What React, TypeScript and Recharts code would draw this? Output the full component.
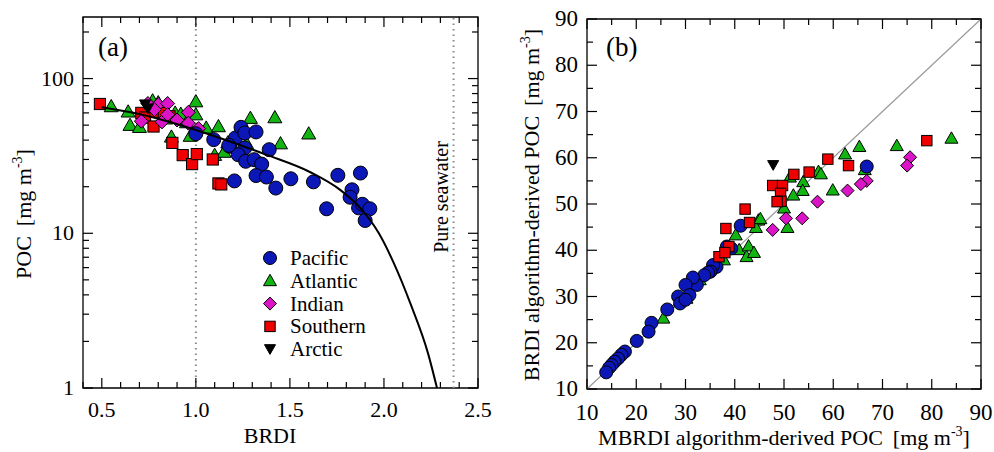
import { ScatterChart, Scatter, XAxis, YAxis, ReferenceLine, ReferenceArea } from "recharts";

const FONT = "'Liberation Serif', 'Times New Roman', Times, serif";

const C_PACIFIC = "#0b17b6";
const C_ATLANTIC = "#12b412";
const C_INDIAN = "#dc14c8";
const C_SOUTHERN = "#f00000";
const C_ARCTIC = "#000000";

// ---- panel (a): BRDI vs POC ----
const pacificA = [
  [1.0, 44], [1.095, 40.3], [1.18, 36.5], [1.21, 41.3], [1.24, 48.4], [1.26, 44.5], [1.32, 45.2],
  [1.26, 35.6], [1.225, 32.2], [1.265, 29.2], [1.31, 29.9], [1.35, 28], [1.39, 34.7], [1.32, 23.6],
  [1.375, 23.1], [1.425, 19.6], [1.205, 21.8], [1.505, 22.5], [1.625, 21.5], [1.755, 23.7],
  [1.875, 24.5], [1.83, 19.1], [1.82, 17.1], [1.695, 14.4], [1.865, 14.6], [1.885, 15.4],
  [1.925, 14.4], [1.9, 12.1], [1.175, 37],
];
const atlanticA = [
  [0.55, 66], [0.64, 61], [0.65, 50], [0.7, 48.5], [0.77, 72], [0.8, 70], [0.87, 42], [0.89, 60],
  [0.92, 59], [0.95, 52], [0.97, 42.5], [1.0, 71], [1.0, 58.5], [1.055, 48], [1.12, 49], [1.1, 32],
  [1.15, 33.5], [1.27, 38], [1.29, 55.5], [1.42, 56], [1.45, 38], [1.6, 44], [0.84, 55], [1.17, 38.5],
];
const indianA = [
  [0.745, 69], [0.8, 68], [0.85, 69], [0.71, 53], [0.82, 52.5], [0.85, 58.5], [0.9, 54],
  [0.96, 60.5], [0.96, 51.5], [1.015, 47.5], [0.78, 63],
];
const southernA = [
  [0.49, 68.5], [0.71, 60], [0.73, 56], [0.775, 49], [0.785, 61], [0.83, 60], [0.86, 57],
  [0.875, 38.4], [0.93, 32], [0.98, 28], [1.005, 32.5], [1.09, 30], [1.12, 21], [1.135, 20.7],
];
const arcticA = [[0.73, 68], [0.745, 64]];
// fitted curve
const fitCurveA = [
  [0.5, 65.3], [0.698, 59.1], [0.902, 50.7], [1.073, 43.5], [1.377, 32.1], [1.609, 24.8],
  [1.769, 19.0], [1.871, 14.7], [1.973, 10.0], [2.053, 6.39], [2.144, 3.43], [2.234, 1.68],
  [2.282, 1.0],
];
const brdiThreshold = 1.0;
const pureSeawaterBrdi = 2.37;

const xTicksA = [0.4, 0.5, 0.6, 0.7, 0.8, 0.9, 1.0, 1.1, 1.2, 1.3, 1.4, 1.5, 1.6, 1.7, 1.8, 1.9, 2.0, 2.1, 2.2, 2.3, 2.4, 2.5];
const xMajorA = [0.5, 1.0, 1.5, 2.0, 2.5];
const yTicksA = [1, 2, 3, 4, 5, 6, 7, 8, 9, 10, 20, 30, 40, 50, 60, 70, 80, 90, 100, 200];
const yMajorA = [1, 10, 100];

// ---- panel (b): MBRDI vs BRDI derived POC ----
const pacificB = [
  [66.8, 58.1], [41.2, 45.3], [38.4, 40.8], [39.3, 40.4], [36.3, 36.4], [35.6, 36.8], [35.1, 35.4],
  [34.6, 35.2], [33.8, 34.6], [31.6, 33.9], [32.3, 32.5], [31.5, 34.1], [30.0, 32.5], [30.8, 30.3],
  [28.5, 30.0], [28.9, 28.5], [30.0, 29.3], [26.3, 27.2], [23.1, 24.3], [22.5, 22.4], [20.1, 20.4],
  [17.7, 18.1], [17.0, 17.4], [16.3, 16.6], [15.6, 15.9], [15.0, 15.2], [14.5, 14.6], [13.9, 13.6],
];
const atlanticB = [
  [84.0, 64.2], [72.9, 62.6], [65.3, 62.4], [62.4, 60.8], [66.4, 57.4], [57.0, 57.0], [51.2, 55.8],
  [53.9, 54.8], [53.8, 52.9], [51.9, 51.9], [59.9, 53.0], [50.0, 49.1], [50.7, 44.9], [44.8, 46.5],
  [44.3, 44.9], [40.2, 43.3], [40.9, 40.1], [42.8, 40.9], [42.4, 38.6], [43.9, 39.5], [37.8, 37.9],
  [32.9, 33.6], [30.2, 29.6], [28.9, 29.2], [25.5, 25.3], [45.2, 46.8], [57.5, 56.5],
];
const indianB = [
  [75.6, 60.1], [75.0, 58.3], [66.8, 55.0], [65.6, 54.3], [62.9, 52.9], [56.8, 50.5], [50.4, 46.9],
  [53.7, 46.9], [47.7, 44.4],
];
const southernB = [
  [79.0, 63.7], [58.9, 59.7], [63.1, 58.3], [55.1, 56.9], [52.0, 56.4], [47.7, 54.0], [49.7, 54.0],
  [49.3, 52.3], [49.4, 50.6], [48.6, 50.5], [42.1, 48.9], [43.0, 46.0], [38.2, 44.7], [38.8, 40.8],
  [36.8, 38.6], [38.0, 39.5],
];
const arcticB = [[47.8, 58.4]];
const oneToOne = [10, 90];

const ticksB = [10, 15, 20, 25, 30, 35, 40, 45, 50, 55, 60, 65, 70, 75, 80, 85, 90];
const majorB = [10, 20, 30, 40, 50, 60, 70, 80, 90];

const legendItems = [
  { name: "Pacific", kind: "circle", color: C_PACIFIC },
  { name: "Atlantic", kind: "triangle", color: C_ATLANTIC },
  { name: "Indian", kind: "diamond", color: C_INDIAN },
  { name: "Southern", kind: "square", color: C_SOUTHERN },
  { name: "Arctic", kind: "down", color: C_ARCTIC },
];

const toPts = (arr: number[][]) => arr.map(([x, y]) => ({ x, y }));

// plot boxes (relative to each chart)
const BOX_A = { left: 83, top: 17, right: 478, bottom: 388, width: 500 };
const BOX_B = { left: 87, top: 19, right: 481, bottom: 389, width: 494 };
const AXIS_W = 40;
const AXIS_H = 30;

function symbol(kind: string, cx: number, cy: number, s: number, color: string) {
  const h = s / 2;
  const common = { fill: color, stroke: "#000", strokeWidth: 1 };
  if (kind === "circle") return <circle cx={cx} cy={cy} r={h} {...common} />;
  if (kind === "square") return <rect x={cx - h * 0.8} y={cy - h * 0.8} width={s * 0.8} height={s * 0.8} {...common} />;
  if (kind === "diamond")
    return <polygon points={`${cx},${cy - h} ${cx + h},${cy} ${cx},${cy + h} ${cx - h},${cy}`} {...common} />;
  if (kind === "triangle")
    return <polygon points={`${cx},${cy - h} ${cx + h},${cy + h * 0.75} ${cx - h},${cy + h * 0.75}`} {...common} />;
  return <polygon points={`${cx - h * 0.85},${cy - h * 0.7} ${cx + h * 0.85},${cy - h * 0.7} ${cx},${cy + h * 0.8}`} {...common} />;
}

const marker = (kind: string, color: string, s: number) => (p: any) => {
  if (p.cx == null || p.cy == null) return <g />;
  return symbol(kind, p.cx, p.cy, s, color);
};

const isMajor = (majors: number[], v: number) => majors.some((m) => Math.abs(m - v) < 1e-6);

const bottomTick = (majors: number[], topY: number, fmt: (v: number) => string, dy: number, fs: number) => (props: any) => {
  const { x, y, payload } = props;
  const major = isMajor(majors, payload.value);
  const len = major ? 10 : 6;
  return (
    <g>
      <line x1={x} y1={y} x2={x} y2={y - len} stroke="#000" strokeWidth={1.2} />
      <line x1={x} y1={topY} x2={x} y2={topY + len} stroke="#000" strokeWidth={1.2} />
      {major && (
        <text x={x} y={y + dy} textAnchor="middle" fontSize={fs} fontFamily={FONT} fill="#000">
          {fmt(payload.value)}
        </text>
      )}
    </g>
  );
};

const leftTick = (majors: number[], rightX: number, fs: number) => (props: any) => {
  const { x, y, payload } = props;
  const major = isMajor(majors, payload.value);
  const len = major ? 10 : 6;
  return (
    <g>
      <line x1={x} y1={y} x2={x + len} y2={y} stroke="#000" strokeWidth={1.2} />
      <line x1={rightX} y1={y} x2={rightX - len} y2={y} stroke="#000" strokeWidth={1.2} />
      {major && (
        <text x={x - 9} y={y + 7} textAnchor="end" fontSize={fs} fontFamily={FONT} fill="#000">
          {payload.value}
        </text>
      )}
    </g>
  );
};

const seawaterLabel = (props: any) => {
  const vb = props.viewBox;
  const tx = vb.x - 6;
  const ty = 197;
  return (
    <text x={tx} y={ty} transform={`rotate(-90, ${tx}, ${ty})`} textAnchor="middle" fontSize={20} fontFamily={FONT} fill="#000">
      Pure seawater
    </text>
  );
};

function PanelA() {
  return (
    <ScatterChart
      width={BOX_A.width}
      height={452}
      margin={{
        top: BOX_A.top,
        right: BOX_A.width - BOX_A.right,
        bottom: 452 - BOX_A.bottom - AXIS_H,
        left: BOX_A.left - AXIS_W,
      }}
    >
      <XAxis
        type="number"
        dataKey="x"
        domain={[0.4, 2.5]}
        ticks={xTicksA}
        interval={0}
        height={AXIS_H}
        tickSize={0}
        tickMargin={0}
        axisLine={false}
        tickLine={false}
        allowDataOverflow
        tick={bottomTick(xMajorA, BOX_A.top, (v) => v.toFixed(1), 29, 22)}
      />
      <YAxis
        type="number"
        dataKey="y"
        scale="log"
        domain={[1, 250]}
        ticks={yTicksA}
        interval={0}
        width={AXIS_W}
        tickSize={0}
        tickMargin={0}
        axisLine={false}
        tickLine={false}
        allowDataOverflow
        tick={leftTick(yMajorA, BOX_A.right, 22)}
      />
      <ReferenceArea x1={0.4} x2={2.5} y1={1} y2={250} fill="none" stroke="#000" strokeWidth={1.3} ifOverflow="visible" />
      <ReferenceLine x={brdiThreshold} stroke="#8a8a8a" strokeWidth={2} strokeDasharray="1.5 4" />
      <ReferenceLine x={pureSeawaterBrdi} stroke="#8a8a8a" strokeWidth={2} strokeDasharray="1.5 4" label={seawaterLabel} />
      <Scatter data={toPts(atlanticA)} shape={marker("triangle", C_ATLANTIC, 14)} isAnimationActive={false} />
      <Scatter data={toPts(southernA)} shape={marker("square", C_SOUTHERN, 14)} isAnimationActive={false} />
      <Scatter data={toPts(indianA)} shape={marker("diamond", C_INDIAN, 14)} isAnimationActive={false} />
      <Scatter data={toPts(arcticA)} shape={marker("down", C_ARCTIC, 13)} isAnimationActive={false} />
      <Scatter data={toPts(pacificA)} shape={marker("circle", C_PACIFIC, 14)} isAnimationActive={false} />
      <Scatter
        data={toPts(fitCurveA)}
        line={{ stroke: "#000", strokeWidth: 2 }}
        lineJointType="monotoneX"
        shape={() => <g />}
        isAnimationActive={false}
      />
    </ScatterChart>
  );
}

function PanelB() {
  return (
    <ScatterChart
      width={BOX_B.width}
      height={452}
      margin={{
        top: BOX_B.top,
        right: BOX_B.width - BOX_B.right,
        bottom: 452 - BOX_B.bottom - AXIS_H,
        left: BOX_B.left - AXIS_W,
      }}
    >
      <XAxis
        type="number"
        dataKey="x"
        domain={[10, 90]}
        ticks={ticksB}
        interval={0}
        height={AXIS_H}
        tickSize={0}
        tickMargin={0}
        axisLine={false}
        tickLine={false}
        allowDataOverflow
        tick={bottomTick(majorB, BOX_B.top, (v) => String(v), 31, 23)}
      />
      <YAxis
        type="number"
        dataKey="y"
        domain={[10, 90]}
        ticks={ticksB}
        interval={0}
        width={AXIS_W}
        tickSize={0}
        tickMargin={0}
        axisLine={false}
        tickLine={false}
        allowDataOverflow
        tick={leftTick(majorB, BOX_B.right, 23)}
      />
      <ReferenceArea x1={10} x2={90} y1={10} y2={90} fill="none" stroke="#000" strokeWidth={1.3} ifOverflow="visible" />
      <ReferenceLine
        segment={[
          { x: oneToOne[0], y: oneToOne[0] },
          { x: oneToOne[1], y: oneToOne[1] },
        ]}
        stroke="#9a9a9a"
        strokeWidth={1.2}
      />
      <Scatter data={toPts(atlanticB)} shape={marker("triangle", C_ATLANTIC, 13)} isAnimationActive={false} />
      <Scatter data={toPts(pacificB)} shape={marker("circle", C_PACIFIC, 13)} isAnimationActive={false} />
      <Scatter data={toPts(southernB)} shape={marker("square", C_SOUTHERN, 13)} isAnimationActive={false} />
      <Scatter data={toPts(indianB)} shape={marker("diamond", C_INDIAN, 13)} isAnimationActive={false} />
      <Scatter data={toPts(arcticB)} shape={marker("down", C_ARCTIC, 13)} isAnimationActive={false} />
    </ScatterChart>
  );
}

function Overlay() {
  const legendTop = 258;
  const legendStep = 22.8;
  return (
    <svg width={994} height={452} style={{ position: "absolute", left: 0, top: 0, pointerEvents: "none" }}>
      <g fontFamily={FONT} fill="#000">
        <text x={98} y={56} fontSize={27}>(a)</text>
        <text x={606} y={56} fontSize={27}>(b)</text>

        {legendItems.map((it, i) => {
          const cy = legendTop + i * legendStep;
          return (
            <g key={it.name}>
              {symbol(it.kind, 270, cy, 13, it.color)}
              <text x={290} y={cy + 7} fontSize={21} fontFamily={FONT}>{it.name}</text>
            </g>
          );
        })}

        <text x={270} y={443} fontSize={22} textAnchor="middle">BRDI</text>
        <text x={784} y={445} fontSize={22} textAnchor="middle">
          MBRDI algorithm-derived POC<tspan dx={10}>[mg m</tspan>
          <tspan dy={-9} fontSize={14}>-3</tspan>
          <tspan dy={9}>]</tspan>
        </text>

        <text x={31} y={214} fontSize={22} textAnchor="middle" transform="rotate(-90, 31, 214)">
          POC<tspan dx={10}>[mg m</tspan>
          <tspan dy={-9} fontSize={14}>-3</tspan>
          <tspan dy={9}>]</tspan>
        </text>
        <text x={539} y={205} fontSize={22} textAnchor="middle" transform="rotate(-90, 539, 205)">
          BRDI algorithm-derived POC<tspan dx={10}>[mg m</tspan>
          <tspan dy={-9} fontSize={14}>-3</tspan>
          <tspan dy={9}>]</tspan>
        </text>
      </g>
    </svg>
  );
}

export default function App() {
  return (
    <div style={{ position: "absolute", left: 0, top: 0, width: 994, height: 452, background: "#fff" }}>
      <div style={{ position: "absolute", left: 0, top: 0 }}>
        <PanelA />
      </div>
      <div style={{ position: "absolute", left: 500, top: 0 }}>
        <PanelB />
      </div>
      <Overlay />
    </div>
  );
}
